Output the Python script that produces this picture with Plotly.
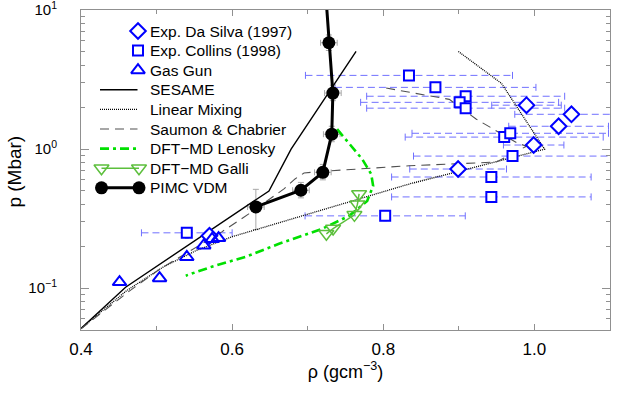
import plotly.graph_objects as go

# ---------------- data ----------------
# Exp. Da Silva (1997)
dasilva_rho = [0.9895, 1.049, 1.032, 0.999, 0.899, 0.570]
dasilva_p = [2.07, 1.78, 1.46, 1.07, 0.719, 0.238]
dasilva_rho_err = [0.046, 0.075, 0.066, 0.040, 0.064, 0.0]

# Exp. Collins (1998)
collins_rho = [0.834, 0.869, 0.909, 0.901, 0.909, 0.960, 0.968, 0.971, 0.943, 0.943, 0.8025, 0.540]
collins_p = [3.39, 2.78, 2.40, 2.17, 1.97, 1.22, 1.30, 0.891, 0.630, 0.453, 0.331, 0.250]
collins_rho_err = [0.137, 0.133, 0.131, 0.131, 0.131, 0.131, 0.130, 0.131, 0.132, 0.132, 0.106, 0.060]
collins_p_err = [0.25, 0.20, 0.17, 0.15, 0.14, 0.09, 0.10, 0.07, 0.05, 0.035, 0.025, 0.02]

# Gas Gun
gasgun_rho = [0.451, 0.504, 0.540, 0.5625, 0.5735, 0.582]
gasgun_p = [0.1106, 0.118, 0.1675, 0.203, 0.226, 0.229]

# SESAME
sesame_rho = [0.400, 0.459, 0.6487, 0.678, 0.764]
sesame_p = [0.0513, 0.1016, 0.500, 1.00, 5.04]

# Linear Mixing
linmix_rho = [0.400, 0.4603, 0.5094, 0.5519, 0.5996, 0.662, 0.772, 0.8343, 1.0134, 0.9564, 0.8993]
linmix_p = [0.0513, 0.0959, 0.1426, 0.1858, 0.234, 0.2947, 0.4457, 0.561, 1.00, 2.97, 5.04]

# Saumon & Chabrier
sc_rho = [0.400, 0.463, 0.503, 0.5426, 0.5863, 0.622, 0.6447, 0.6686, 0.6832, 0.6951, 0.715,
          0.8343, 0.9497, 0.9895, 0.9776, 0.9497, 0.9232, 0.8874, 0.7985]
sc_p = [0.051, 0.0944, 0.1357, 0.1827, 0.254, 0.342, 0.417, 0.517, 0.610, 0.673, 0.690,
        0.759, 0.807, 1.05, 1.104, 1.346, 1.64, 2.28, 2.78]

# DFT-MD Lenosky
len_rho = [0.7389, 0.7574, 0.772, 0.784, 0.7866, 0.7787, 0.7548, 0.719, 0.6885, 0.662, 0.6182, 0.5731, 0.5386]
len_p = [1.391, 1.050, 0.848, 0.662, 0.543, 0.424, 0.331, 0.267, 0.234, 0.2085, 0.1683, 0.1426, 0.1230]

# DFT-MD Galli
galli_rho = [0.7247, 0.7336, 0.7618, 0.7658, 0.768]
galli_p = [0.246, 0.2685, 0.3365, 0.4015, 0.4757]

# PIMC VDM
pimc_rho = [0.6314, 0.691, 0.720, 0.7318, 0.7333, 0.728, 0.7243]
pimc_p = [0.3836, 0.506, 0.681, 1.28, 2.53, 5.82, 12.0]
pimc_rho_err = [0.011, 0.011, 0.011, 0.011, 0.011, 0.011, 0.0]
pimc_p_err_plus = [0.13, 0.07, 0.095, 0.18, 0.35, 0.80, 0.0]
pimc_p_err_minus = [0.12, 0.06, 0.08, 0.15, 0.30, 0.70, 0.0]

x_tickvals = [0.4, 0.6, 0.8, 1.0]
x_ticktext = ["0.4", "0.6", "0.8", "1.0"]
y_tickvals = [0.1, 1, 10]
y_ticktext = ["10<sup>\u22121</sup>", "10<sup>0</sup>", "10<sup>1</sup>"]

legend_labels = ["Exp. Da Silva (1997)", "Exp. Collins (1998)", "Gas Gun", "SESAME",
                 "Linear Mixing", "Saumon &amp; Chabrier", "DFT\u2212MD Lenosky",
                 "DFT\u2212MD Galli", "PIMC VDM"]
x_title = "\u03c1 (gcm<sup>\u22123</sup>)"
y_title = "p (Mbar)"

# ---------------- styles / layout constants ----------------
FONT = "Liberation Sans, Arial, Helvetica, sans-serif"
BLUE = "#0000ff"
ERRBLUE = "#7070ff"
GRAYERR = "#a8a8a8"
AXC = "#909090"
GALLI_GREEN = "#5cbf3c"

W, H = 630, 393
ML, MR, MT, MB = 81, 20, 10, 63
PW, PH = W - ML - MR, H - MT - MB

# legend layout (pixel offsets inside plot area)
LEG_ROW0, LEG_STEP = 21.0, 19.6
LEG_LX0, LEG_LX1, LEG_MX, LEG_TX = 19.0, 56.5, 57.0, 67.0

line_styles = {
    "SESAME": dict(color="black", width=1.4),
    "LM": dict(color="black", width=1.3, dash="1px,1px"),
    "SC": dict(color="#505050", width=1.1, dash="9px,6px"),
    "LEN": dict(color="#00e000", width=2.6, dash="9px,4px,3px,4px"),
    "GALLI": dict(color=GALLI_GREEN, width=1.5),
    "PIMC": dict(color="black", width=3),
}
marker_styles = {
    "DS": dict(symbol="diamond", size=12, color="white", line=dict(width=2, color=BLUE)),
    "CO": dict(symbol="square", size=10, color="white", line=dict(width=2, color=BLUE)),
    "GG": dict(symbol="triangle-up-open", size=12, color=BLUE, line=dict(width=2, color=BLUE)),
    "GALLI": dict(symbol="triangle-down-open", size=13, color=GALLI_GREEN, line=dict(width=1.5, color=GALLI_GREEN)),
    "PIMC": dict(symbol="circle", size=13, color="black"),
}


def hbars(xs, ys, errs):
    bx, by, cx, cy = [], [], [], []
    for x, y, e in zip(xs, ys, errs):
        if e <= 0:
            continue
        bx += [x - e, x + e, None]
        by += [y, y, None]
        cx += [x - e, x + e]
        cy += [y, y]
    return bx, by, cx, cy


fig = go.Figure()

# dashed horizontal error bars (experiments)
for xs, ys, es in [(collins_rho, collins_p, collins_rho_err), (dasilva_rho, dasilva_p, dasilva_rho_err)]:
    bx, by, cx, cy = hbars(xs, ys, es)
    fig.add_trace(go.Scatter(x=bx, y=by, mode="lines", hoverinfo="skip",
                             line=dict(color=ERRBLUE, width=1, dash="7px,4px")))
    fig.add_trace(go.Scatter(x=cx, y=cy, mode="markers", hoverinfo="skip",
                             marker=dict(symbol="line-ns", size=5, line=dict(color=ERRBLUE, width=1))))

# PIMC error crosses
fig.add_trace(go.Scatter(
    x=pimc_rho, y=pimc_p, mode="markers", hoverinfo="skip",
    marker=dict(size=1, color="rgba(0,0,0,0)"),
    error_x=dict(type="data", array=pimc_rho_err, color=GRAYERR, thickness=1, width=3),
    error_y=dict(type="data", array=pimc_p_err_plus, arrayminus=pimc_p_err_minus,
                 color=GRAYERR, thickness=1, width=3),
))

# model curves
fig.add_trace(go.Scatter(x=sesame_rho, y=sesame_p, mode="lines", line=line_styles["SESAME"]))
fig.add_trace(go.Scatter(x=linmix_rho, y=linmix_p, mode="lines", line=line_styles["LM"]))
fig.add_trace(go.Scatter(x=sc_rho, y=sc_p, mode="lines", line=line_styles["SC"]))
fig.add_trace(go.Scatter(x=len_rho, y=len_p, mode="lines", line=line_styles["LEN"]))
fig.add_trace(go.Scatter(x=galli_rho, y=galli_p, mode="lines+markers", line=line_styles["GALLI"],
                         marker=marker_styles["GALLI"]))
fig.add_trace(go.Scatter(x=pimc_rho, y=pimc_p, mode="lines+markers", line=line_styles["PIMC"],
                         marker=marker_styles["PIMC"]))

# experimental markers
fig.add_trace(go.Scatter(x=dasilva_rho, y=dasilva_p, mode="markers", marker=marker_styles["DS"]))
fig.add_trace(go.Scatter(x=collins_rho, y=collins_p, mode="markers", marker=marker_styles["CO"],
                         error_y=dict(type="data", array=collins_p_err, color=BLUE, thickness=1, width=2)))
fig.add_trace(go.Scatter(x=gasgun_rho, y=gasgun_p, mode="markers", marker=marker_styles["GG"]))

# ---------------- custom legend (overlay pixel axes) ----------------
rows = [LEG_ROW0 + i * LEG_STEP for i in range(len(legend_labels))]
leg_kw = dict(xaxis="x2", yaxis="y2", hoverinfo="skip")
for i, key in enumerate(["DS", "CO", "GG"]):
    fig.add_trace(go.Scatter(x=[LEG_MX], y=[rows[i]], mode="markers", marker=marker_styles[key], **leg_kw))
for i, key in zip(range(3, 7), ["SESAME", "LM", "SC", "LEN"]):
    fig.add_trace(go.Scatter(x=[LEG_LX0, LEG_LX1], y=[rows[i], rows[i]], mode="lines",
                             line=line_styles[key], **leg_kw))
for i, key in [(7, "GALLI"), (8, "PIMC")]:
    fig.add_trace(go.Scatter(x=[LEG_LX0 + 1.5, LEG_LX1 + 1.5], y=[rows[i], rows[i]], mode="lines+markers",
                             line=line_styles[key], marker=marker_styles[key], **leg_kw))

annotations = [dict(x=LEG_TX, y=r, xref="x2", yref="y2", text=t, showarrow=False,
                    xanchor="left", yanchor="middle",
                    font=dict(family=FONT, size=15.5, color="black"))
               for t, r in zip(legend_labels, rows)]
# y-axis title as rotated annotation (centre ~15px from left edge)
annotations.append(dict(x=-66 / PW, y=0.495, xref="paper", yref="paper", text=y_title,
                        showarrow=False, textangle=-90, xanchor="center", yanchor="middle",
                        font=dict(family=FONT, size=19, color="black")))

y_minor = [v * m for m in (0.01, 0.1, 1) for v in range(2, 10)]
y_minor = [v for v in y_minor if v >= 0.05]

fig.update_layout(
    width=W, height=H,
    margin=dict(l=ML, r=MR, t=MT, b=MB),
    paper_bgcolor="white", plot_bgcolor="white",
    font=dict(family=FONT, color="black", size=16),
    showlegend=False,
    hovermode=False,
    annotations=annotations,
    xaxis=dict(range=[0.4, 1.1], tickvals=x_tickvals, ticktext=x_ticktext, automargin=False,
               ticks="inside", ticklen=6, tickcolor=AXC, showline=True, linecolor=AXC, linewidth=1,
               mirror="ticks", showgrid=False, zeroline=False, ticklabelstandoff=4,
               tickfont=dict(size=17, family=FONT),
               minor=dict(dtick=0.1, tick0=0.4, ticks="inside", ticklen=4, tickcolor=AXC, showgrid=False),
               title=dict(text=x_title, font=dict(size=18, family=FONT), standoff=6)),
    yaxis=dict(type="log", range=[-1.30103, 1.0005], tickvals=y_tickvals, ticktext=y_ticktext, automargin=False,
               ticks="inside", ticklen=8, tickcolor=AXC, showline=True, linecolor=AXC, linewidth=1,
               mirror="ticks", showgrid=False, zeroline=False, ticklabelstandoff=20,
               ticklabeloverflow="allow",
               tickfont=dict(size=15, family=FONT),
               minor=dict(tickvals=y_minor, ticks="inside", ticklen=4, tickcolor=AXC, showgrid=False)),
    xaxis2=dict(overlaying="x", anchor="y2", range=[0, PW], visible=False, fixedrange=True),
    yaxis2=dict(overlaying="y", anchor="x2", range=[PH, 0], visible=False, fixedrange=True),
)

fig.write_html("out.html", config={"displayModeBar": False, "staticPlot": True},
               post_script="document.body.style.margin='0px';document.body.style.padding='0px';")
